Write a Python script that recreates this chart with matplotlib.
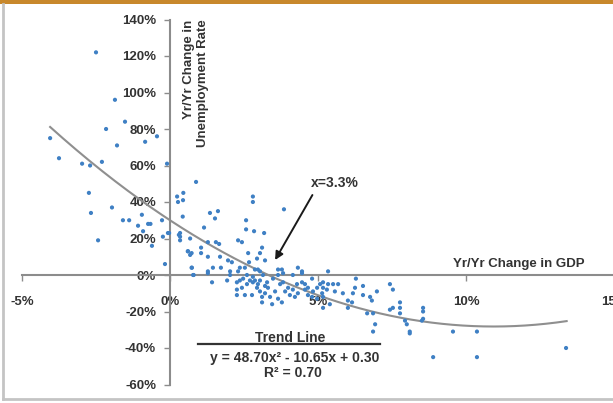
import numpy as np
import matplotlib
matplotlib.use("Agg")
import matplotlib.pyplot as plt
from matplotlib.lines import Line2D
from matplotlib.patches import Rectangle
from matplotlib.ticker import FuncFormatter

plt.rcParams["font.family"] = ["Liberation Sans", "DejaVu Sans"]

# Yr/Yr change in GDP (%) and Yr/Yr change in unemployment rate (%)
gdp_chg = [
    -2.5, -1.86, -1.52, -2.16, -4.05, -0.84, -0.44, -1.79,
    -3.75, -2.97, -2.70, -2.30, -0.10,
    -2.74, -2.67, -1.96, -1.59, -1.38, -0.95, -1.08, -0.74, -0.66, -0.27,
    -0.91, -0.61, -2.43, -0.24, -0.03, -0.17, 0.24, 0.30,
    0.27, 0.45, 0.44, 0.88, 0.43, 0.34, 0.68, 0.60, 0.73, 0.73, 0.80,
    -0.07, 0.34, 0.34, 1.15, 1.35, 1.62, 1.52, 1.28, 1.55, 1.66, 0.61, 0.68,
    1.05, 1.05, 1.28, 0.74, 1.96, 1.69, 2.09, 1.72, 1.45, 1.28, 2.30, 2.43,
    2.57, 2.57, 2.84, 2.80, 2.80, 3.18, 3.11, 3.04, 2.64, 2.94, 3.21, 3.85,
    2.67, 2.36, 2.53, 3.65, 3.78, 4.32, 4.46, 2.03, 2.30, 2.87, 2.97, 3.04,
    4.80,
    # dense cluster just below zero
    1.42, 0.78, 1.28, 1.93, 2.26, 2.26, 2.43, 2.26, 2.53, 2.77, 2.60, 2.80,
    2.94, 3.04, 3.11, 3.11, 2.80, 3.04, 3.28, 3.31, 3.45, 3.48, 3.72, 3.82,
    3.99, 4.05, 4.29, 4.32, 4.56, 4.66, 4.80, 4.97, 5.14, 4.22, 4.15, 4.46,
    3.65, 3.82, 3.14, 2.60, 2.36, 2.03, 2.70, 2.87, 2.47, 2.97, 3.21, 3.21,
    3.38, 3.55, 3.65, 3.78, 3.89, 4.15, 4.46, 4.56, 4.66, 4.83, 4.97, 5.07,
    5.17,
    # 5% - 10%
    5.34, 6.28, 5.17, 5.34, 5.51, 5.68, 5.30, 5.57, 5.84, 5.17, 5.17, 5.40,
    6.25, 6.18, 6.52, 6.52, 6.76, 6.82, 6.99, 6.01, 6.15, 6.01, 6.66, 6.86,
    6.93, 6.86, 7.43, 7.53, 7.77, 7.43, 7.53, 7.77, 7.94, 8.00, 8.10, 8.55,
    8.55, 8.51, 9.56, 10.37, 8.10, 8.89, 10.37, 13.38, 8.55, 7.77,
]
unemp_chg = [
    122, 96, 84, 80, 75, 73, 76, 71,
    64, 61, 60, 62, 61,
    45, 34, 37, 30, 30, 33, 27, 28, 28, 30,
    24, 16, 19, 21, 23, 6, 43, 22,
    40, 45, 41, 51, 32, 21, 20, 13, 12, 4, 0,
    23, 23, 19, 26, 34, 35, 31, 18, 18, 17, 13, 11,
    15, 12, 10, 4, 8, 10, 7, 4, 4, 2, 19, 18,
    30, 25, 24, 43, 40, 23, 15, 12, 12, 9, 8, 36,
    7, 4, 4, 3, 3, 4, 2, 2, 2, 3, 3, 2,
    -2,
    -4, 0, 1, -3, -4, -8, -7, -11, -11, -11, -5, -4,
    -7, -9, -12, -15, -1, -3, -4, -7, -16, -2, -5, -4,
    -7, -11, -5, -10, -8, -11, -12, -13, -10, -12, 0, 1,
    0, 1, 0, 0, -3, 0, -3, -3, -2, -5, -6, -10,
    -12, -9, -13, -15, -9, -8, -4, -5, -7, -9, -7, -5,
    -7,
    2, -2, -4, -5, -5, -5, -8, -9, -10, -12, -18, -16,
    -7, -10, -6, -11, -12, -14, -9, -14, -15, -18, -21, -21,
    -27, -31, -5, -8, -15, -19, -18, -21, -25, -27, -31, -18,
    -20, -25, -31, -31, -32, -45, -45, -40, -24, -18,
]

# trend line shown on the chart: y = a x^2 + b x + c (fractions)
trend_a, trend_b, trend_c = 48.70, -10.65, 0.30
trend_x_range = (-4.05, 13.4)

x_ticks = [-5, 0, 5, 10, 15]
y_ticks = [-60, -40, -20, 0, 20, 40, 60, 80, 100, 120, 140]

W, H = 613, 403
fig = plt.figure(figsize=(W / 100, H / 100), dpi=100)
ax = fig.add_axes([22 / W, (H - 384.5) / H, 592 / W, 365 / H])

text_c = "#333333"
axis_c = "#8c8c8c"

ax.scatter(gdp_chg, unemp_chg, s=9, color="#3f80c4", edgecolors="none", zorder=3)

tx = np.linspace(trend_x_range[0], trend_x_range[1], 200) / 100
ty = trend_a * tx**2 + trend_b * tx + trend_c
ax.plot(tx * 100, ty * 100, color="#8f8f8f", lw=1.5, zorder=2)

ax.set_xlim(-5, 15)
ax.set_ylim(-60, 140)
ax.set_xticks(x_ticks)
ax.set_yticks(y_ticks)
pct = FuncFormatter(lambda v, p: f"{v:.0f}%")
ax.xaxis.set_major_formatter(pct)
ax.yaxis.set_major_formatter(pct)

for side in ("top", "right"):
    ax.spines[side].set_visible(False)
ax.spines["left"].set_position(("data", 0))
ax.spines["bottom"].set_position(("data", 0))
for side in ("left", "bottom"):
    ax.spines[side].set_color(axis_c)
    ax.spines[side].set_linewidth(1.5)

ax.tick_params(axis="y", direction="out", length=4, width=1, color=axis_c,
               pad=6, labelsize=9.5, labelcolor=text_c)
ax.tick_params(axis="x", direction="out", length=4, width=1, color=axis_c,
               pad=11, labelsize=9.5, labelcolor=text_c)
for lab in ax.get_xticklabels() + ax.get_yticklabels():
    lab.set_fontweight("bold")
ax.patch.set_visible(False)

ax.text(0.88, 140, "Yr/Yr Change in\nUnemployment Rate", rotation=90,
        ha="center", va="top", multialignment="right",
        fontsize=9.5, fontweight="bold", color=text_c)
ax.text(9.56, 6, "Yr/Yr Change in GDP", ha="left", va="center",
        fontsize=9.5, fontweight="bold", color=text_c)

ax.annotate("x=3.3%", xy=(3.55, 8.2), xytext=(4.75, 50.5),
            ha="left", va="center", fontsize=10, fontweight="bold", color=text_c,
            arrowprops=dict(arrowstyle="-|>", color="#1a1a1a", lw=1.4,
                            mutation_scale=12, shrinkA=2, shrinkB=0,
                            relpos=(0.1, 0.0)))

ax.text(4.05, -34.5, "Trend Line", ha="center", va="center",
        fontsize=10, fontweight="bold", color=text_c)
ax.plot([0.95, 7.1], [-37.8, -37.8], color="#333333", lw=1.6, clip_on=False)
ax.text(4.2, -45.5, "y = 48.70x\u00b2 - 10.65x + 0.30", ha="center", va="center",
        fontsize=10, fontweight="bold", color=text_c)
ax.text(4.15, -53.7, "R\u00b2 = 0.70", ha="center", va="center",
        fontsize=10, fontweight="bold", color=text_c)

# framing of the original screenshot
fig.add_artist(Rectangle((0, 1 - 4 / H), 1, 4 / H, transform=fig.transFigure,
                         color="#c8882c", lw=0))
fig.add_artist(Line2D([3 / W, 3 / W], [1 - 4 / H, 1 - 399 / H],
                      transform=fig.transFigure, color="#c4c4c4", lw=2))
fig.add_artist(Line2D([3 / W, 1], [1 - 399 / H, 1 - 399 / H],
                      transform=fig.transFigure, color="#c4c4c4", lw=2))

fig.savefig("out.png", dpi=100)
